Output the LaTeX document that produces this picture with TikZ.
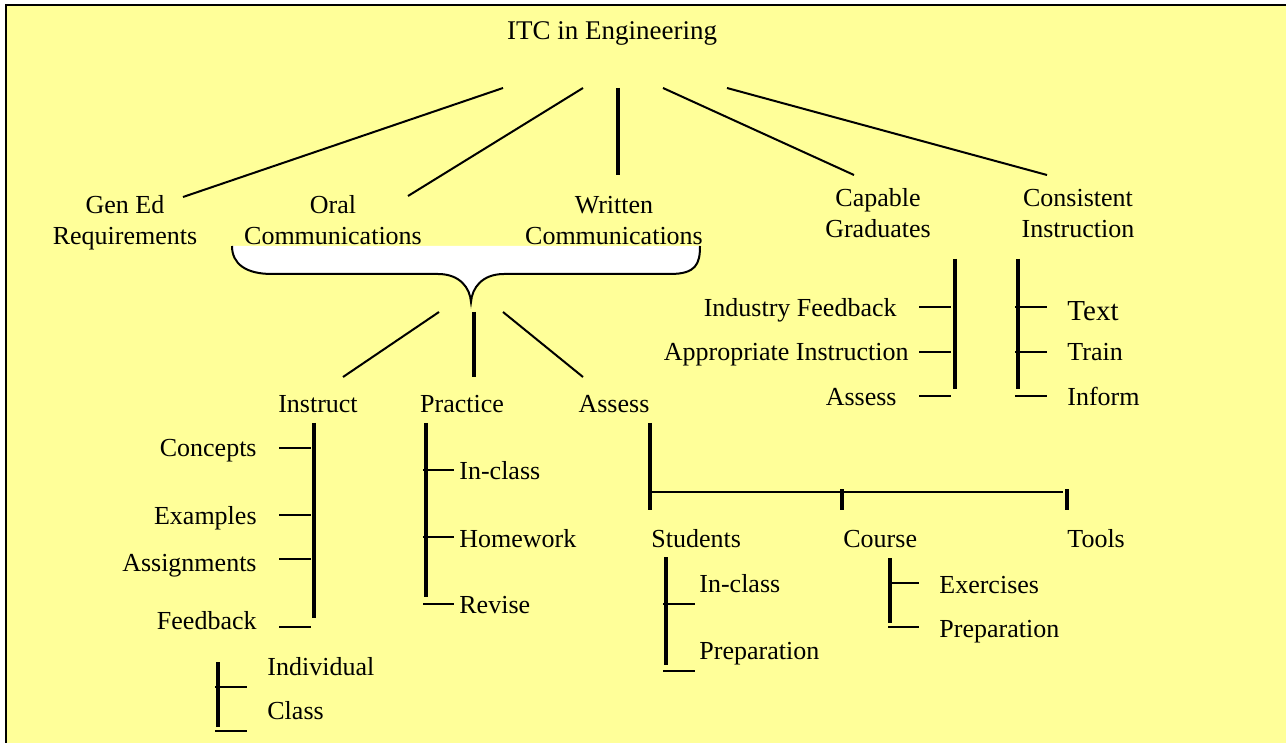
\documentclass[tikz,border=0pt]{standalone}
\usepackage{fontspec}
\setmainfont{Liberation Serif}
\definecolor{paper}{HTML}{FFFF99}
\begin{document}
\begin{tikzpicture}[x=0.5pt,y=-0.5pt,
  lbl/.style={inner sep=0pt, font=\fontsize{13}{15.5}\selectfont},
  twoline/.style={lbl, align=center},
  thin/.style={line width=1pt},
  bar/.style={line width=1.7pt}]
\useasboundingbox (0,0) rectangle (1286,743);
% page and frame
\fill[paper] (6,5) rectangle (1286,743);
\draw[thin] (6,743) -- (6,5) -- (1286,5);

% ---------- top level ----------
\node[lbl, anchor=base, font=\fontsize{13.5}{16}\selectfont] (title) at (612,40) {ITC in Engineering};
\node[twoline, anchor=base] (gened) at (125,245) {Gen Ed\\Requirements};
\node[twoline, anchor=base] (oral) at (333,245) {Oral\\Communications};
\node[twoline, anchor=base] (written) at (614,245) {Written\\Communications};
\node[twoline, anchor=base] (capable) at (878,238) {Capable\\Graduates};
\node[twoline, anchor=base] (consistent) at (1078,238) {Consistent\\Instruction};

\coordinate (t1) at (503,88);  \coordinate (g1) at (183,197);
\coordinate (t2) at (583,88);  \coordinate (o1) at (408,196);
\coordinate (t3) at (618,88);  \coordinate (w1) at (618,175);
\coordinate (t4) at (663,88);  \coordinate (c1) at (854,175);
\coordinate (t5) at (727,88);  \coordinate (s1) at (1047,175);
\draw[thin] (t1) -- (g1);
\draw[thin] (t2) -- (o1);
\draw[bar]  (t3) -- (w1);
\draw[thin] (t4) -- (c1);
\draw[thin] (t5) -- (s1);

% ---------- brace joining the two communications ----------
\coordinate (brL) at (232,246);
\coordinate (brR) at (700,246);
\coordinate (brTip) at (471,302);
\draw[thin, fill=white] (brL) .. controls (232,264) and (246,274) .. (272,274)
  -- (438,274) .. controls (460,274) and (470,288) .. (brTip)
  .. controls (472,288) and (482,274) .. (504,274)
  -- (670,274) .. controls (696,274) and (700,264) .. (brR);

\node[lbl, anchor=base] (instruct) at (318,413) {Instruct};
\node[lbl, anchor=base] (practice) at (462,413) {Practice};
\node[lbl, anchor=base] (assess) at (614,413) {Assess};

\coordinate (b1) at (439,312); \coordinate (i1) at (343,377);
\coordinate (b2) at (474,312); \coordinate (p1) at (474,377);
\coordinate (b3) at (503,312); \coordinate (a1) at (583,377);
\draw[thin] (b1) -- (i1);
\draw[bar]  (b2) -- (p1);
\draw[thin] (b3) -- (a1);

% ---------- Instruct ----------
\draw[bar] (314,423) -- (314,618);
\node[lbl, anchor=base east] (concepts) at (257,457) {Concepts};
\node[lbl, anchor=base east] (examples) at (257,524) {Examples};
\node[lbl, anchor=base east] (assign) at (257,571) {Assignments};
\node[lbl, anchor=base east] (feedback) at (257,629) {Feedback};
\foreach \y in {448,515,559,627}
  \draw[thin] (279,\y) -- (311,\y);

% Feedback detail
\draw[bar] (218,662) -- (218,727);
\draw[thin] (215,687) -- (247,687);
\draw[thin] (215,731) -- (247,731);
\node[lbl, anchor=base west] (indiv) at (267,675) {Individual};
\node[lbl, anchor=base west] (class) at (267,719) {Class};

% ---------- Practice ----------
\draw[bar] (426,423) -- (426,597);
\foreach \y in {470,537,604}
  \draw[thin] (423,\y) -- (454,\y);
\node[lbl, anchor=base west] (pin) at (459,480) {In-class};
\node[lbl, anchor=base west] (phw) at (459,547) {Homework};
\node[lbl, anchor=base west] (prev) at (459,613) {Revise};

% ---------- Assess ----------
\draw[bar] (650,423) -- (650,510);
\draw[thin] (650,492) -- (1063,492);
\draw[bar] (842,489) -- (842,510);
\draw[bar] (1067,489) -- (1067,510);
\node[lbl, anchor=base west] (students) at (651,547) {Students};
\node[lbl, anchor=base west] (course) at (843,547) {Course};
\node[lbl, anchor=base west] (tools) at (1067,547) {Tools};

% Students detail
\draw[bar] (666,557) -- (666,665);
\draw[thin] (663,604) -- (695,604);
\draw[thin] (663,671) -- (695,671);
\node[lbl, anchor=base west] (sin) at (699,592) {In-class};
\node[lbl, anchor=base west] (sprep) at (699,659) {Preparation};

% Course detail
\draw[bar] (890,558) -- (890,623);
\draw[thin] (888,583) -- (919,583);
\draw[thin] (888,627) -- (919,627);
\node[lbl, anchor=base west] (cex) at (939,593) {Exercises};
\node[lbl, anchor=base west] (cprep) at (939,637) {Preparation};

% ---------- Capable Graduates ----------
\draw[bar] (955,259) -- (955,389);
\foreach \y in {307,352,396}
  \draw[thin] (919,\y) -- (951,\y);
\node[lbl, anchor=base east] (indfb) at (897,317) {Industry Feedback};
\node[lbl, anchor=base east] (appins) at (909,361) {Appropriate Instruction};
\node[lbl, anchor=base east] (gassess) at (897,406) {Assess};

% ---------- Consistent Instruction ----------
\draw[bar] (1018,259) -- (1018,389);
\foreach \y in {307,352,396}
  \draw[thin] (1015,\y) -- (1047,\y);
\node[lbl, anchor=base west, font=\fontsize{14.5}{17}\selectfont] (text) at (1067,321) {Text};
\node[lbl, anchor=base west] (train) at (1067,361) {Train};
\node[lbl, anchor=base west] (inform) at (1067,406) {Inform};
\end{tikzpicture}
\end{document}
